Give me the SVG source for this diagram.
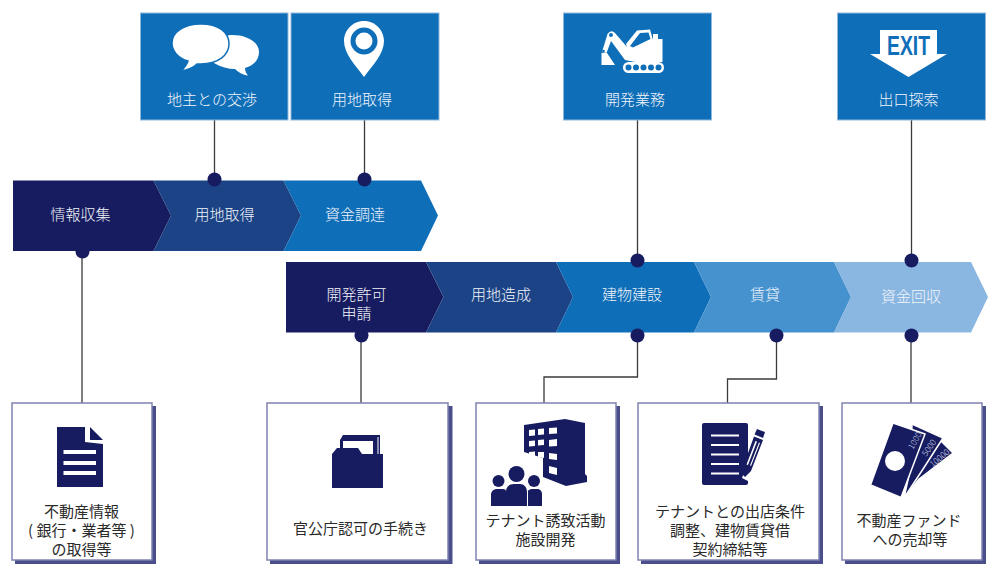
<svg xmlns="http://www.w3.org/2000/svg" width="1000" height="576" viewBox="0 0 1000 576">
<style>
text{font-family:"Noto Sans CJK JP","Liberation Sans",sans-serif;font-size:15px;font-weight:300;text-anchor:middle}
.w{fill:#f2f5fa}.k{fill:#2a2a2a;font-weight:400}
.top{fill:#0f6eb8;stroke:#8fb8dc;stroke-width:1}
.card{fill:#fff;stroke:#7f83b0;stroke-width:1.5}
.sh{fill:#4a4f8c}
.line{fill:none;stroke:#3a3a3a;stroke-width:1.3}
.dot{fill:#171c60}
.c1{fill:#171c60}.c2{fill:#1b4386}.c3{fill:#0f6eb8}.c4{fill:#4692cf}.c5{fill:#8ab7e2}
.i{fill:#171c60}.iw{fill:#fff}.ib{fill:#0f6eb8}
.bill{fill:#171c60;stroke:#fff;stroke-width:1.5;stroke-linejoin:round}
.amt{font-size:8.500px;fill:#d7dcf0}
</style>
<g id="connectors">
<path class="line" d="M214.500 120V180M364.500 120V180M637.500 120V261M911.500 120V261M82 251V403M361 333V403M637.500 336V377H544V403M776.500 336V379H727.500V403M911 336V403"/>
</g>
<g id="row1">
<g id="step-jouhou"><path class="c1" d="M13 180.500H153.500L171 215.500L153.500 251H13Z"/><text class="w" x="80.500" y="220">情報収集</text></g>
<g id="step-youchi"><path class="c2" d="M153.500 180.500H283.500L301 215.500L283.500 251H153.500L171 215.500Z"/><text class="w" x="224.500" y="220">用地取得</text></g>
<g id="step-shikin"><path class="c3" d="M283.500 180.500H421L438 215.500L421 251H283.500L301 215.500Z"/><text class="w" x="355" y="220">資金調達</text></g>
</g>
<g id="row2">
<g id="step-kyoka"><path class="c1" d="M286 262H426L443.500 297L426 332.500H286Z"/><text class="w" x="356.500" y="300">開発許可</text><text class="w" x="356.500" y="319">申請</text></g>
<g id="step-zousei"><path class="c2" d="M426 262H556L573 297L556 332.500H426L443.500 297Z"/><text class="w" x="501" y="300">用地造成</text></g>
<g id="step-kensetsu"><path class="c3" d="M556 262H694L711 297L694 332.500H556L573 297Z"/><text class="w" x="632" y="300">建物建設</text></g>
<g id="step-chintai"><path class="c4" d="M694 262H834L851 297L834 332.500H694L711 297Z"/><text class="w" x="765" y="300">賃貸</text></g>
<g id="step-kaishu"><path class="c5" d="M834 262H971L988 297L971 332.500H834L851 297Z"/><text class="w" x="911" y="301.500">資金回収</text></g>
</g>
<g id="dots">
<circle class="dot" cx="214.500" cy="179.500" r="7"/><circle class="dot" cx="364.500" cy="179.500" r="7"/><circle class="dot" cx="82.500" cy="251.500" r="7"/><circle class="dot" cx="637.500" cy="260.500" r="7"/><circle class="dot" cx="911.500" cy="260.500" r="7"/><circle class="dot" cx="361.500" cy="335.500" r="7"/><circle class="dot" cx="637.500" cy="335.500" r="7"/><circle class="dot" cx="776.500" cy="335.500" r="7"/><circle class="dot" cx="911.500" cy="335.500" r="7"/>
</g>
<g id="top-kosho"><rect class="top" x="140.500" y="13" width="147.500" height="107"/>
<path class="iw" d="M232 35C220 35 212 48 214 63C221 67 228 69 235 69C238 72 243 75 248 75.500C246 73 245 71 245 68C254 65 259 60 259 52C259 42 247 35 232 35Z"/>
<path class="iw" d="M201 24C184 24 172 32 172 43C172 51 178 58 188 61C187 65 184 68 181 71C188 70 193 68 197 64C199 64 200 64 201 64C218 64 229 55 229 44C229 32 218 24 201 24Z" stroke="#0f6eb8" stroke-width="1.5"/>
<text class="w" x="212" y="104.500">地主との交渉</text></g>
<g id="top-youchi"><rect class="top" x="291" y="13" width="148" height="107"/>
<path class="iw" d="M364 21C352 21 344 31 344 41C344 54 356 66 364 77C372 66 384 54 384 41C384 31 376 21 364 21Z"/>
<circle class="ib" cx="364" cy="41" r="13.500"/><circle class="iw" cx="364" cy="41" r="8.500"/>
<text class="w" x="362" y="104.500">用地取得</text></g>
<g id="top-kaihatsu"><rect class="top" x="563.500" y="13" width="148" height="107"/>
<path class="iw" d="M626 44L637 30.500L650 29.500L653 40V34H658V39H662.500V62H635L625 60L611 41L606.500 53L602 52L607.500 34Q611 29 615 33L627 47Z"/>
<path class="ib" d="M630 46L640 33L648.500 32.500L650.500 39L633 47.500Z"/>
<path class="iw" d="M601.500 53H607L615 65H601.500Z"/>
<rect class="iw" x="623" y="62" width="41" height="11" rx="5.500"/>
<g class="ib"><circle cx="628.500" cy="67.500" r="3"/><circle cx="636" cy="67.500" r="3"/><circle cx="643.500" cy="67.500" r="3"/><circle cx="651" cy="67.500" r="3"/><circle cx="658.500" cy="67.500" r="3"/><circle cx="611" cy="35" r="2"/><circle cx="603.500" cy="51" r="1.300"/></g>
<text class="w" x="635" y="104.500">開発業務</text></g>
<g id="top-deguchi"><rect class="top" x="837.500" y="13" width="148" height="107"/>
<path class="iw" d="M880 30H937V54H947L908.500 77L870 54H880Z"/>
<text x="908.500" y="55" textLength="43" lengthAdjust="spacingAndGlyphs" style="font-family:'Liberation Sans',sans-serif;font-weight:700;font-size:27.500px;fill:#0f6eb8">EXIT</text>
<text class="w" x="908.500" y="104.500">出口探索</text></g>
<g id="card-joho"><rect class="sh" x="15" y="406" width="141" height="158"/><rect class="card" x="12" y="403" width="140" height="157"/>
<path class="i" d="M57 427H85V442L103 444V487H57Z"/><path class="i" d="M90 427L103 440H90Z"/>
<path class="iw" d="M63.500 450H96V454H63.500ZM63.500 461H96V465H63.500ZM63.500 471H96V475H63.500Z"/>
<text class="k" x="81.500" y="516.500">不動産情報</text><text class="k" x="81.500" y="535.500">( 銀行・業者等 )</text><text class="k" x="81.500" y="554.500">の取得等</text></g>
<g id="card-kancho"><rect class="sh" x="270" y="406" width="182.500" height="158"/><rect class="card" x="267" y="403" width="181" height="157"/>
<path class="i" d="M340 448V440L343 435H380V454H383V488H332V454L337 448Z"/>
<path class="iw" d="M343 448V441H373V454H362L358 448ZM377.500 437H378.500V454H377.500Z"/>
<text class="k" x="360.500" y="533.500">官公庁認可の手続き</text></g>
<g id="card-tenant"><rect class="sh" x="479" y="406" width="141" height="158"/><rect class="card" x="476" y="403" width="140" height="157"/>
<path class="i" d="M524 425L565 419L585 423V474L587 476V482L566 486L543 477V458L524 452Z"/>
<path class="iw" d="M529 430L535 429.500V435.500L529 436ZM538 429L544 428.500V434.500L538 435ZM549 428L557 427.500V433.500L549 434ZM529 441L535 440.500V446L529 446.500ZM538 440L544 439.500V445L538 445.500ZM549 440L557 439V446L549 446.500ZM529 452L535 451.500V457L529 457.500ZM538 452L544 452V458L538 457ZM549 453L557 454V460L549 459ZM529 463L534 464V470L529 468ZM549 466L557 468V475L549 473Z"/>
<circle class="i" cx="498.500" cy="481" r="6"/><circle class="i" cx="516.500" cy="474" r="8"/><circle class="i" cx="534" cy="481" r="6"/>
<path class="i" d="M491 506V495C491 491 494 489 497 489H503C505 489 506 490 506 491V506ZM506 506V492C506 487 509 484 514 484H520C524 484 527 487 527 492V506ZM528 506V491C528 490 530 489 532 489H537C540 489 542 491 542 494V506Z"/>
<text class="k" x="545.500" y="525.500">テナント誘致活動</text><text class="k" x="545.500" y="544.500">施設開発</text></g>
<g id="card-jouken"><rect class="sh" x="641" y="406" width="182" height="158"/><rect class="card" x="638" y="403" width="181" height="157"/>
<path class="i" d="M704 423H746Q748 423 748 425V462L742 478L748 481V483Q748 485 746 485H704Q702 485 702 483V425Q702 423 704 423Z"/>
<path class="iw" d="M711 434.500H739V436.500H711ZM711 444H739V446H711ZM711 453.500H739V455.500H711ZM711 463H739V465H711ZM711 472.500H739V474.500H711Z"/>
<path class="i" d="M757 429L765 432L763 438L754.500 434.500ZM754 436.500L763 440L751 471L745 477L743 475V467Z"/>
<path class="iw" d="M755.500 441L757 441.500L748 465L746.500 464.500ZM759 442.500L760 443L751 466L750 465.500Z"/>
<text class="k" x="730" y="516.500">テナントとの出店条件</text><text class="k" x="730" y="535.500">調整、建物賃貸借</text><text class="k" x="730" y="554.500">契約締結等</text></g>
<g id="card-fund"><rect class="sh" x="845" y="406" width="141" height="158"/><rect class="card" x="842" y="403" width="140" height="157"/>
<path class="bill" d="M930 430L953 453L919 479L904 498L915 470Z"/>
<path class="bill" d="M912 424L943 438L925 466L904 498L911 466Z"/>
<path class="bill" d="M893 423L925 434L901 497.500L870.500 485Z"/>
<circle class="iw" cx="895" cy="461" r="10"/>
<text class="amt" transform="translate(917.600 442) rotate(-60)">1000</text>
<text class="amt" transform="translate(931.500 449.500) rotate(-55)">5000</text>
<text class="amt" transform="translate(941.500 460.300) rotate(-40)">10000</text>
<text class="k" x="909" y="525.500">不動産ファンド</text><text class="k" x="910" y="544.500">への売却等</text></g>
</svg>
